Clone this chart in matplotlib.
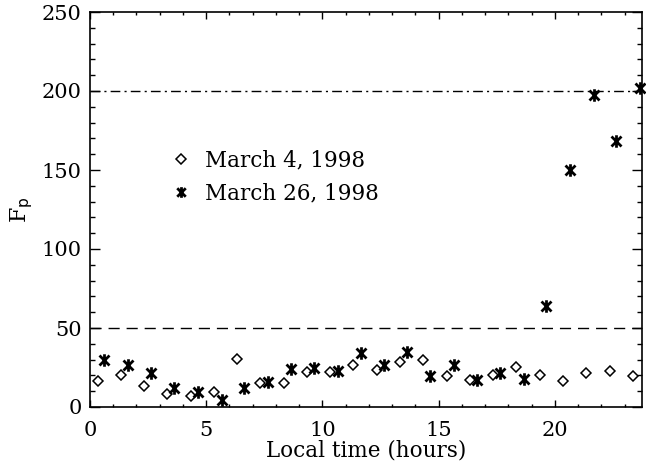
import numpy as np
import matplotlib
matplotlib.use('Agg')
import matplotlib.pyplot as plt
from matplotlib.path import Path

# March 4, 1998 (diamonds)
t_mar4 = [0.33, 1.33, 2.33, 3.33, 4.33, 5.33, 6.34, 7.33, 8.33, 9.33, 10.33, 11.33,
          12.33, 13.33, 14.34, 15.34, 16.34, 17.35, 18.35, 19.35, 20.36, 21.36, 22.37, 23.37]
fp_mar4 = [16.6, 20.5, 13.5, 8.2, 7.2, 9.7, 30.4, 15.4, 15.4, 22.4, 22.4, 26.6,
           23.4, 28.3, 29.5, 19.6, 17.3, 20.5, 25.5, 20.5, 16.6, 21.7, 22.6, 19.4]

# March 26, 1998 (asterisks)
t_mar26 = [0.62, 1.62, 2.62, 3.63, 4.63, 5.66, 6.64, 7.64, 8.65, 9.65, 10.65, 11.66,
           12.65, 13.65, 14.65, 15.66, 16.63, 17.66, 18.67, 19.64, 20.65, 21.68, 22.65, 23.68]
fp_mar26 = [29.7, 26.6, 21.7, 11.8, 9.7, 4.4, 11.8, 15.6, 23.8, 24.7, 22.6, 34.0,
            26.6, 35.0, 19.6, 26.6, 17.3, 21.7, 17.5, 63.9, 150.0, 197.5, 168.4, 202.0]

# IDL-like asterisk: vertical bar plus an X
ast = Path([(0, -1), (0, 1), (-0.8, -0.8), (0.8, 0.8), (-0.8, 0.8), (0.8, -0.8)],
           [Path.MOVETO, Path.LINETO, Path.MOVETO, Path.LINETO, Path.MOVETO, Path.LINETO])

plt.rcParams['font.family'] = ['DejaVu Serif']

fig = plt.figure(figsize=(6.46, 4.68), dpi=100)
ax = fig.add_axes([90/646, 1-407/468, 552/646, 395/468])

ax.plot(t_mar4, fp_mar4, ls='none', marker='D', ms=5.5, mfc='white', mec='black',
        mew=1.1, label='March 4, 1998', clip_on=False)
ax.plot(t_mar26, fp_mar26, ls='none', marker=ast, ms=9, mec='black', mew=2,
        label='March 26, 1998', clip_on=False)

ax.axhline(200, color='black', lw=1, dashes=(7, 3, 1.5, 3))
ax.axhline(50, color='black', lw=1, dashes=(8, 5))

ax.set_xlim(0, 23.75)
ax.set_ylim(0, 250)
ax.set_xticks([0, 5, 10, 15, 20])
ax.set_xticks(np.arange(0, 24, 1), minor=True)
ax.set_yticks([0, 50, 100, 150, 200, 250])
ax.set_yticks(np.arange(0, 251, 10), minor=True)

ax.tick_params(which='both', direction='in', top=True, right=True, width=1, labelsize=15)
ax.tick_params(axis='x', which='major', length=5, pad=10)
ax.tick_params(axis='x', which='minor', length=2.5)
ax.tick_params(axis='y', which='major', length=7, pad=6)
ax.tick_params(axis='y', which='minor', length=3.5)
for s in ax.spines.values():
    s.set_linewidth(1.2)

ax.set_xlabel('Local time (hours)', fontsize=15.5, labelpad=0)
ax.set_ylabel(r'F$_\mathrm{p}$', fontsize=16, labelpad=5)

ax.legend(loc='center left', bbox_to_anchor=(0.128, 0.583), frameon=False,
          fontsize=15.5, handlelength=1.1, handletextpad=0.55, labelspacing=0.5,
          borderaxespad=0, markerscale=0.85)

fig.savefig('out.png', dpi=100)
